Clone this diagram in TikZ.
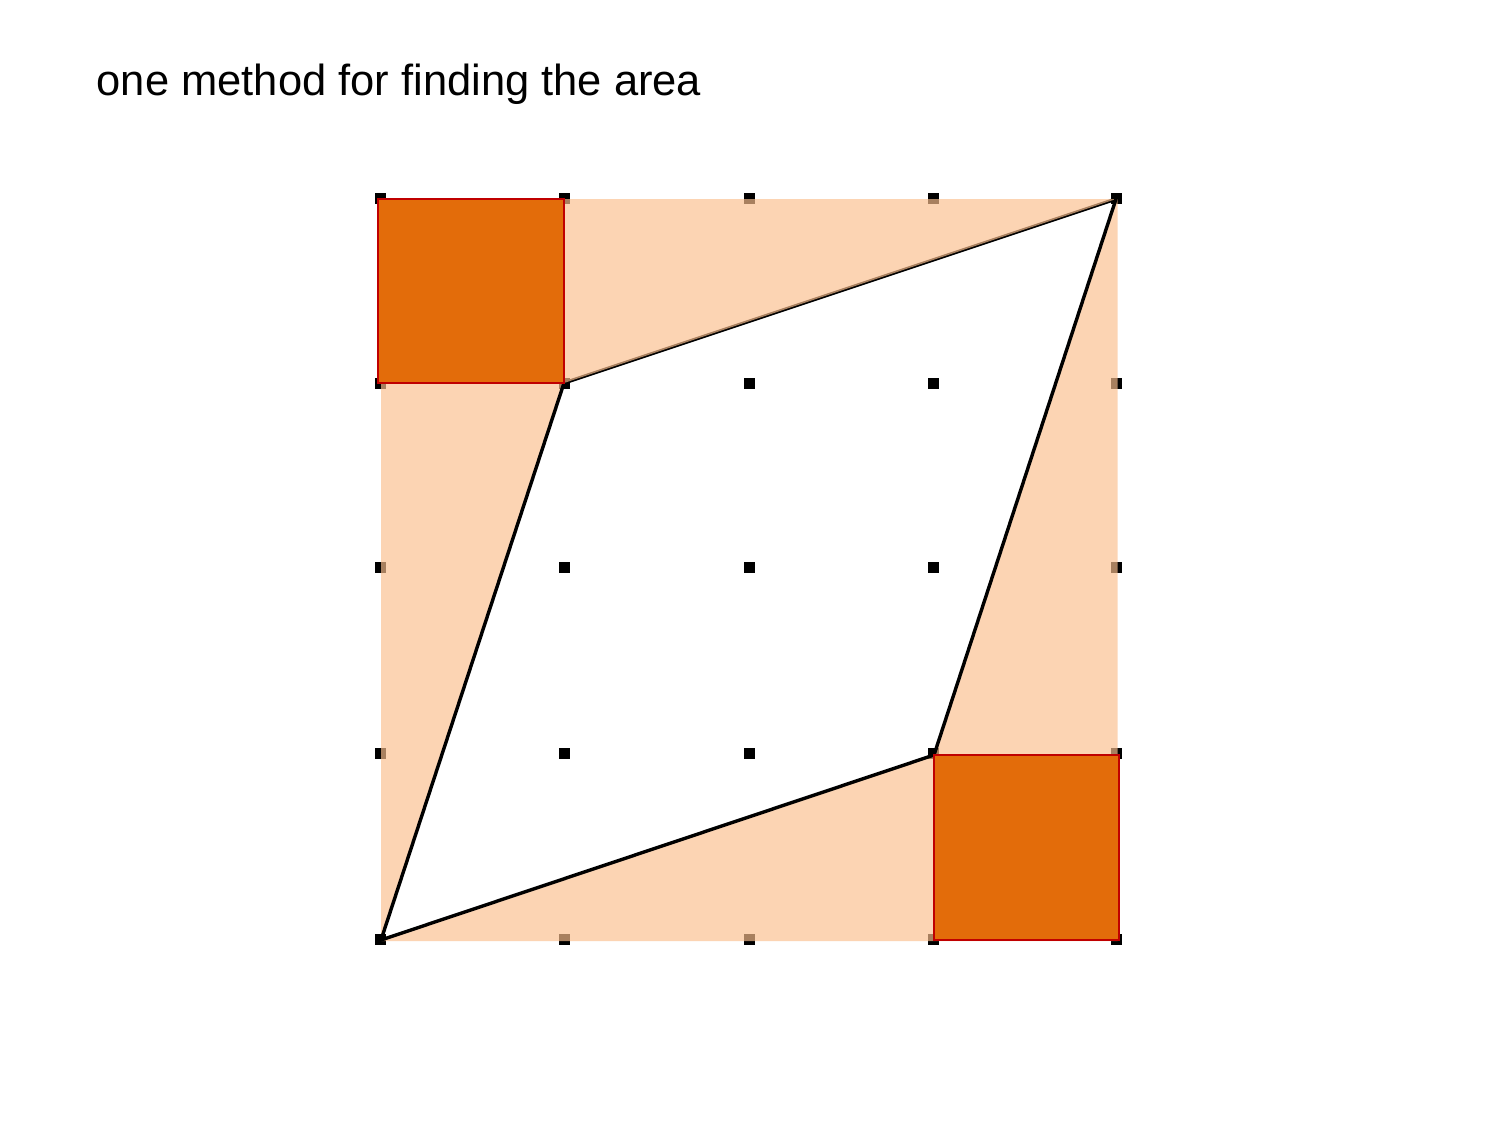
\documentclass[tikz,border=0pt]{standalone}
\usepackage{fontspec}
\setmainfont{Liberation Sans}
\definecolor{peach}{RGB}{252,191,143}
\definecolor{dorange}{RGB}{227,108,10}
\definecolor{dred}{RGB}{192,0,0}
\begin{document}
\begin{tikzpicture}[x=1pt,y=-1pt,
  edge/.style={draw=black,line width=3.4pt,line cap=round,line join=round},
  sq/.style={fill=dorange,draw=dred,line width=2.8pt},
  shade/.style={fill=peach,fill opacity=0.67,even odd rule}]
\useasboundingbox (0,0) rectangle (1500,1125);
\fill[white] (0,0) rectangle (1500,1125);
\node[anchor=base west,inner sep=0pt,font=\fontsize{43.5}{50}\selectfont] (title) at (96.5,95) {one method for finding the area};
% grid dots
\foreach \x in {380,564,749,933,1116}{
  \foreach \y in {198,383,567,753,939}{
    \fill[black] (\x-5.5,\y-5.5) rectangle (\x+5.5,\y+5.5);
  }
}
\coordinate (A) at (564,383);
\coordinate (B) at (1116,199);
\coordinate (C) at (934,755);
\coordinate (D) at (381,940);
\draw[edge] (A) -- (B);
\path[shade] (381,199) rectangle (1117.5,941) (A) -- (B) -- (C) -- (D) -- cycle;
\draw[edge] (B) -- (C);
\draw[edge] (C) -- (D);
\draw[edge] (D) -- (A);
\path[sq] (378,199) rectangle (A);
\path[sq] (C) rectangle (1119,940);
\end{tikzpicture}
\end{document}
